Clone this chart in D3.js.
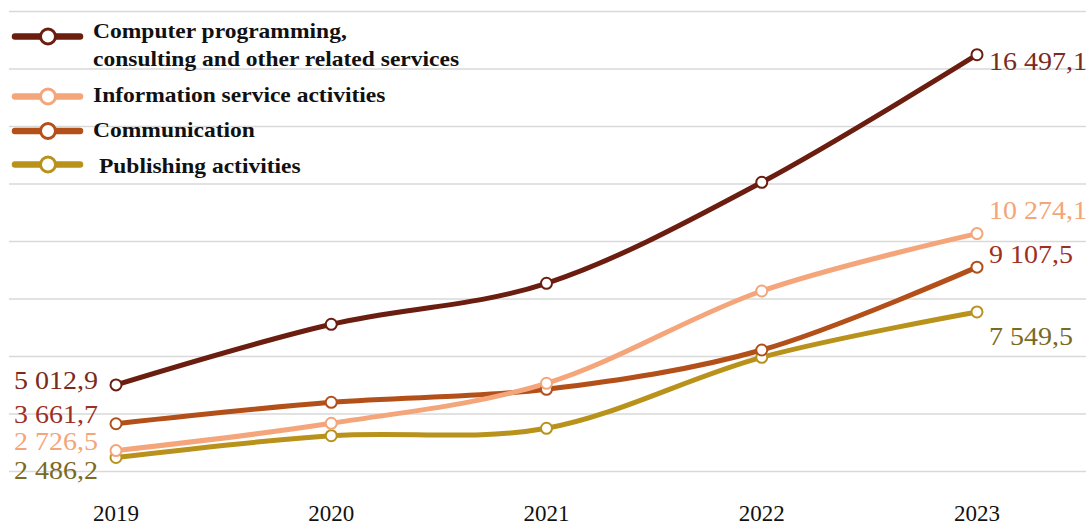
<!DOCTYPE html>
<html>
<head>
<meta charset="utf-8">
<script src="https://cdn.jsdelivr.net/npm/d3@7"></script>
<style>
  body { margin: 0; background: #fff; }
  svg { display: block; }
  text { font-family: "Liberation Serif", "Times New Roman", serif; }
</style>
</head>
<body>
<svg id="chart" width="1086" height="525"></svg>
<script>
// data
var years = ["2019", "2020", "2021", "2022", "2023"];
var computing = [5012.9, 7120, 8546, 12059, 16497.1];
var infoServices = [2726.5, 3677, 5068, 8278, 10274.1];
var communication = [3661.7, 4407, 4859, 6226, 9107.5];
var publishing = [2486.2, 3245, 3503, 5972, 7549.5];
var yTicks = [2000, 4000, 6000, 8000, 10000, 12000, 14000, 16000, 18000];

var series = [
  { name: ["Computer programming,", "consulting and other related services"], values: computing,
    color: "#6b1d10", labelColor: "#7b2a20" },
  { name: ["Information service activities"], values: infoServices,
    color: "#f4a57a", labelColor: "#f4a57a" },
  { name: ["Communication"], values: communication,
    color: "#b34f18", labelColor: "#9e2f25" },
  { name: [" Publishing activities"], values: publishing,
    color: "#b8921a", labelColor: "#7a6a24" }
];

var svg = d3.select("#chart");

var x = d3.scalePoint().domain(years).range([116, 977]);
var y = d3.scaleLinear().domain([2000, 18000]).range([471.5, 11.5]);

// gridlines
svg.append("g")
  .attr("class", "grid")
  .selectAll("line")
  .data(yTicks)
  .enter()
  .append("line")
  .attr("x1", 9)
  .attr("x2", 1086)
  .attr("y1", d => y(d))
  .attr("y2", d => y(d))
  .attr("stroke", "#d9d9d9")
  .attr("stroke-width", 1.5);

// year labels
svg.append("g")
  .selectAll("text")
  .data(years)
  .enter()
  .append("text")
  .attr("x", d => x(d))
  .attr("y", 521)
  .attr("text-anchor", "middle")
  .attr("font-size", 23)
  .attr("fill", "#111")
  .text(d => d);

var line = d3.line()
  .x((d, i) => x(years[i]))
  .y(d => y(d))
  .curve(d3.curveCardinal.tension(0));

// lines, back to front as in the picture
var drawOrder = [3, 2, 1, 0];
drawOrder.forEach(function(k) {
  var s = series[k];
  svg.append("path")
    .datum(s.values)
    .attr("d", line)
    .attr("fill", "none")
    .attr("stroke", s.color)
    .attr("stroke-width", 5)
    .attr("stroke-linecap", "round");
});
drawOrder.forEach(function(k) {
  var s = series[k];
  svg.append("g")
    .selectAll("circle")
    .data(s.values)
    .enter()
    .append("circle")
    .attr("cx", (d, i) => x(years[i]))
    .attr("cy", d => y(d))
    .attr("r", 5.5)
    .attr("fill", "#fff")
    .attr("stroke", s.color)
    .attr("stroke-width", 2);
});

// value labels at the ends (the source font is a bit wide, so stretch it)
var fmt = function(v) {
  return d3.format(",.1f")(v).replace(/,/g, " ").replace(".", ",");
};
var firstDy = [4, -1, -1, 21];
var lastDy = [15, -15, -4, 33];
series.forEach(function(s, k) {
  var v0 = s.values[0], v1 = s.values[s.values.length - 1];
  svg.append("text")
    .attr("transform", "translate(98," + (y(v0) + firstDy[k]) + ") scale(1.12,1)")
    .attr("text-anchor", "end")
    .attr("font-size", 25)
    .attr("fill", s.labelColor)
    .text(fmt(v0));
  svg.append("text")
    .attr("transform", "translate(989," + (y(v1) + lastDy[k]) + ") scale(1.12,1)")
    .attr("font-size", 25)
    .attr("fill", s.labelColor)
    .text(fmt(v1));
});

// legend
var legendY = [36.5, 96.5, 131, 164.5];
var legendTextY = [38.3, 101.7, 137.3, 173.3];
var legend = svg.append("g").attr("class", "legend");
series.forEach(function(s, k) {
  var g = legend.append("g").attr("transform", "translate(0," + legendY[k] + ")");
  g.append("line")
    .attr("x1", 15).attr("x2", 80)
    .attr("stroke", s.color)
    .attr("stroke-width", 6.5)
    .attr("stroke-linecap", "round");
  g.append("circle")
    .attr("cx", 48).attr("r", 7.5)
    .attr("fill", "#fff")
    .attr("stroke", s.color)
    .attr("stroke-width", 3);
  var t = legend.append("text")
    .attr("transform", "translate(93," + legendTextY[k] + ") scale(1.12,1)")
    .attr("font-size", 21)
    .attr("font-weight", "bold")
    .attr("fill", "#111")
    .style("white-space", "pre");
  s.name.forEach(function(n, j) {
    t.append("tspan")
      .attr("x", 0)
      .attr("dy", j === 0 ? 0 : 27.4)
      .text(n);
  });
});
</script>
</body>
</html>
